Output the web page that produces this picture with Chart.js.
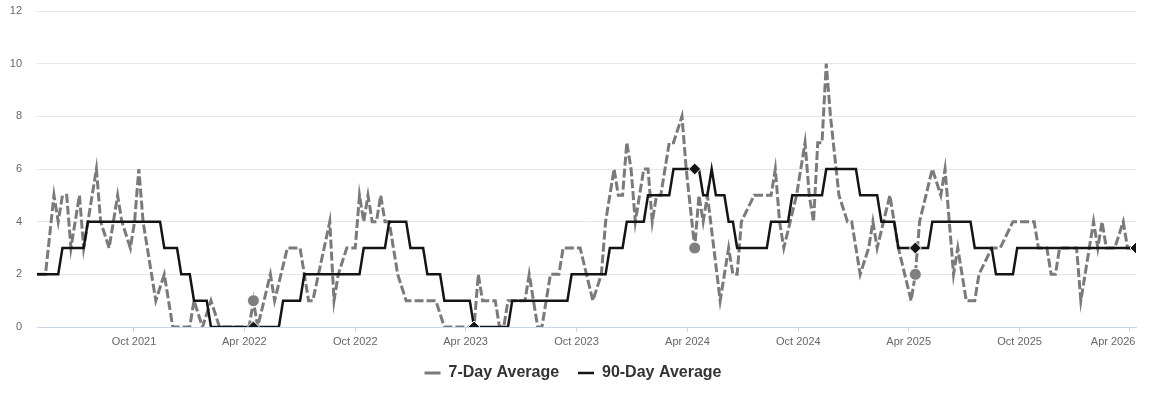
<!DOCTYPE html>
<html>
<head>
<meta charset="utf-8">
<script src="https://cdn.jsdelivr.net/npm/chart.js@4.4.0/dist/chart.umd.min.js"></script>
<style>
  html, body { margin: 0; padding: 0; background: #fff; }
  #wrap { width: 1150px; height: 401px; }
</style>
</head>
<body>
<div id="wrap"><canvas id="trendChart"></canvas></div>
<script>
// x values are week numbers counted from startDate
const startDate = '2021-04-24';

const weeks7 = [0, 2, 4, 5, 6, 7, 8, 10, 11, 12,
  14, 15, 17, 18, 19, 20, 22, 23, 24, 25,
  26, 28, 30, 32, 36, 37, 39, 41, 43, 50,
  51, 52, 55, 56, 59, 62, 64, 65, 69, 70,
  71, 73, 75, 76, 77, 78, 79, 80, 81, 82,
  83, 85, 87, 94, 96, 103, 104, 105, 108, 109,
  110, 111, 115, 116, 118, 119, 121, 123, 124, 128,
  131, 133, 134, 136, 137, 138, 139, 140, 141, 143,
  144, 145, 146, 147, 149, 150, 152, 153, 155, 156,
  157, 158, 161, 162, 163, 164, 165, 166, 169, 173,
  174, 175, 176, 179, 180, 181, 182, 183, 184, 185,
  186, 187, 189, 191, 192, 194, 196, 197, 198, 201,
  203, 206, 207, 208, 211, 213, 214, 215, 216, 217,
  218, 219, 221, 222, 225, 227, 230, 235, 236, 238,
  239, 240, 241, 245, 246, 248, 249, 250, 251, 252,
  254, 256, 257, 259];
const avg7 = [2, 2, 5, 4, 5, 5, 3, 5, 3, 4,
  6, 4, 3, 4, 5, 4, 3, 4, 6, 4,
  3, 1, 2, 0, 0, 1, 0, 1, 0, 0,
  1, 0, 2, 1, 3, 3, 1, 1, 4, 1,
  2, 3, 3, 5, 4, 5, 4, 4, 5, 4,
  4, 2, 1, 1, 0, 0, 2, 1, 1, 0,
  0, 1, 1, 2, 0, 0, 2, 2, 3, 3,
  1, 2, 4, 6, 5, 5, 7, 6, 4, 6,
  6, 4, 5, 5, 7, 7, 8, 6, 3, 5,
  4, 5, 1, 2, 3, 2, 2, 4, 5, 5,
  6, 4, 3, 5, 6, 7, 5, 4, 7, 7,
  10, 8, 5, 4, 4, 2, 3, 4, 3, 5,
  3, 1, 2, 4, 6, 5, 6, 4, 2, 3,
  2, 1, 1, 2, 3, 3, 4, 4, 3, 3,
  2, 2, 3, 3, 1, 3, 4, 3, 4, 3,
  3, 4, 3, 3];

const weeks90 = [0, 5, 6, 11, 12, 29, 30, 33, 34, 36,
  37, 40, 41, 57, 58, 62, 63, 76, 77, 82,
  83, 87, 88, 91, 92, 95, 96, 102, 103, 111,
  112, 125, 126, 134, 135, 138, 139, 143, 144, 149,
  150, 155, 156, 157, 158, 159, 160, 162, 163, 164,
  165, 172, 173, 177, 178, 185, 186, 193, 194, 198,
  199, 202, 203, 210, 211, 220, 221, 225, 226, 230,
  231, 259];
const avg90 = [2, 2, 3, 3, 4, 4, 3, 3, 2, 2,
  1, 1, 0, 0, 1, 1, 2, 2, 3, 3,
  4, 4, 3, 3, 2, 2, 1, 1, 0, 0,
  1, 1, 2, 2, 3, 3, 4, 4, 5, 5,
  6, 6, 6, 5, 5, 6, 5, 5, 4, 4,
  3, 3, 4, 4, 5, 5, 6, 6, 5, 5,
  4, 4, 3, 3, 4, 4, 3, 3, 2, 2,
  3, 3];

// same day each year
const markerWeeks = [51, 103, 155, 207, 259];
const markers90 = [0, 0, 6, 3, 3];
const markers7 = [1, null, 3, 2, null];

const tickDates = ['2021-10-01', '2022-04-01', '2022-10-01', '2023-04-01', '2023-10-01',
  '2024-04-01', '2024-10-01', '2025-04-01', '2025-10-01', '2026-04-01'];
const tickLabels = ['Oct 2021', 'Apr 2022', 'Oct 2022', 'Apr 2023', 'Oct 2023',
  'Apr 2024', 'Oct 2024', 'Apr 2025', 'Oct 2025', 'Apr 2026\u00a0\u00a0\u00a0\u00a0\u00a0\u00a0\u00a0\u00a0\u00a0\u00a0\u00a0'];

const yTicks = [0, 2, 4, 6, 8, 10, 12];

const FONT = "'Liberation Sans', Arial, Helvetica, sans-serif";
const weekMs = 7 * 24 * 3600 * 1000;
const toWeek = d => (Date.parse(d) - Date.parse(startDate)) / weekMs;
const pairs = (xs, ys) => xs.map((x, i) => ({ x: x, y: ys[i] })).filter(p => p.y !== null);

// nudge the legend a few px to the right
const legendShift = {
  id: 'legendShift',
  afterLayout(chart) {
    chart.legend.left += 5;
    chart.legend.right += 5;
  }
};

const ctx = document.getElementById('trendChart').getContext('2d');
new Chart(ctx, {
  type: 'line',
  data: {
    datasets: [{
      label: '7-Day Average\u00a0\u00a0',
      data: pairs(weeks7, avg7),
      borderColor: '#7a7a7a',
      backgroundColor: '#7a7a7a',
      borderWidth: 3,
      borderDash: [9, 3],
      pointRadius: 0,
      tension: 0,
      order: 3
    }, {
      label: '90-Day Average',
      data: pairs(weeks90, avg90),
      borderColor: '#141414',
      backgroundColor: '#141414',
      borderWidth: 2.5,
      pointRadius: 0,
      tension: 0,
      order: 2
    }, {
      label: '7-Day marker',
      data: pairs(markerWeeks, markers7),
      showLine: false,
      pointStyle: 'circle',
      pointRadius: 6,
      pointBackgroundColor: '#7f7f7f',
      pointBorderColor: '#ffffff',
      pointBorderWidth: 1,
      order: 1
    }, {
      label: '90-Day marker',
      data: pairs(markerWeeks, markers90),
      showLine: false,
      pointStyle: 'rectRot',
      pointRadius: 6,
      pointBackgroundColor: '#141414',
      pointBorderColor: '#ffffff',
      pointBorderWidth: 1,
      order: 0
    }]
  },
  options: {
    responsive: true,
    maintainAspectRatio: false,
    animation: false,
    events: [],
    layout: { padding: { left: 0, right: 14, top: 11, bottom: 10 } },
    scales: {
      x: {
        type: 'linear',
        min: 0,
        max: 259,
        afterBuildTicks: scale => { scale.ticks = tickDates.map(d => ({ value: toWeek(d) })); },
        afterFit: scale => { scale.paddingLeft = 0; scale.paddingRight = 0; scale.height = 28; },
        ticks: {
          autoSkip: false,
          maxRotation: 0,
          padding: 3,
          color: '#666666',
          font: { family: FONT, size: 11 },
          callback: (v, i) => tickLabels[i]
        },
        grid: { drawOnChartArea: false, drawTicks: true, tickLength: 5, color: '#ccd6eb' },
        border: { display: true, color: '#ccd6eb', width: 1 }
      },
      y: {
        min: 0,
        max: 12,
        afterBuildTicks: scale => { scale.ticks = yTicks.map(v => ({ value: v })); },
        afterFit: scale => { scale.width = 37; scale.paddingTop = 0; scale.paddingBottom = 0; },
        ticks: {
          padding: 15,
          color: '#666666',
          font: { family: FONT, size: 11 }
        },
        grid: { color: '#e6e6e6', drawTicks: false },
        border: { display: false }
      }
    },
    plugins: {
      tooltip: { enabled: false },
      legend: {
        position: 'bottom',
        labels: {
          usePointStyle: true,
          pointStyle: 'line',
          pointStyleWidth: 16,
          padding: 10,
          color: '#333333',
          font: { family: FONT, size: 16, weight: 'bold' },
          filter: item => item.datasetIndex < 2,
          sort: (a, b) => a.datasetIndex - b.datasetIndex
        }
      }
    }
  },
  plugins: [legendShift]
});
</script>
</body>
</html>
